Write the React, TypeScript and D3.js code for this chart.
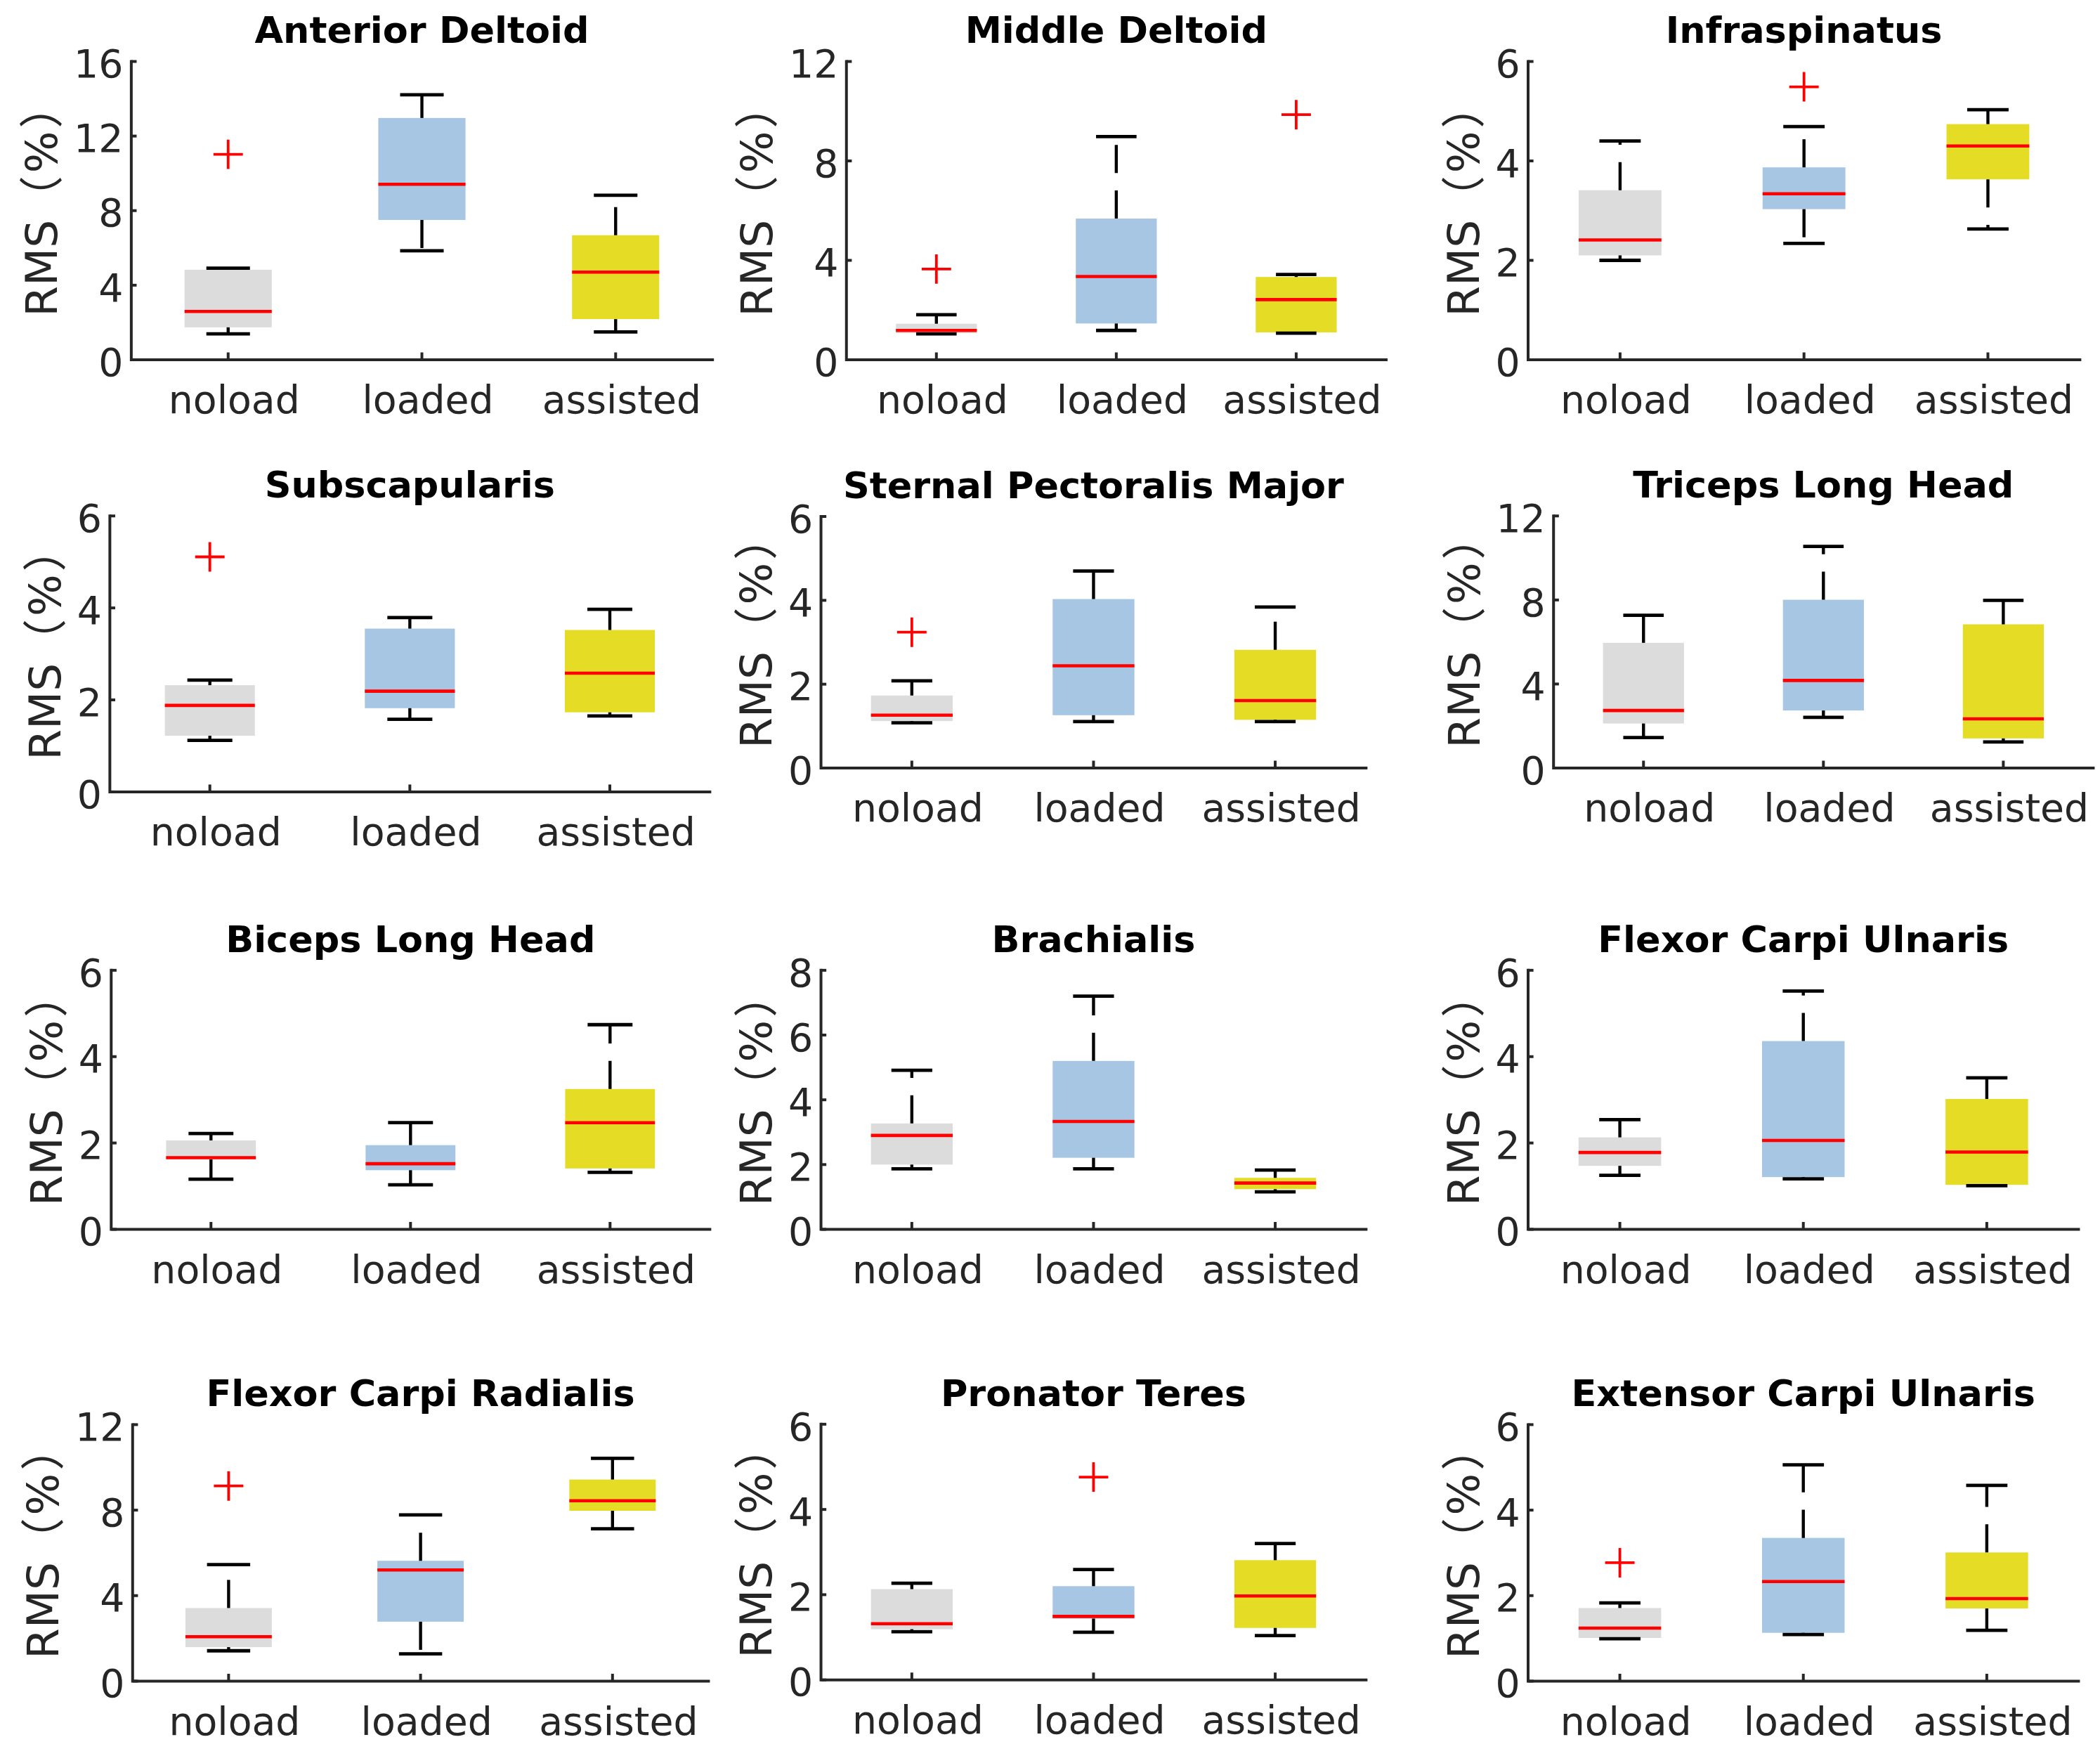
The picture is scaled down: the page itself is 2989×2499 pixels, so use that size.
import React from "react";
import * as d3 from "d3";

// values, one row per muscle, columns = noload, loaded, assisted
const muscles = [
  "Anterior Deltoid",
  "Middle Deltoid",
  "Infraspinatus",
  "Subscapularis",
  "Sternal Pectoralis Major",
  "Triceps Long Head",
  "Biceps Long Head",
  "Brachialis",
  "Flexor Carpi Ulnaris",
  "Flexor Carpi Radialis",
  "Pronator Teres",
  "Extensor Carpi Ulnaris",
];
const groups = ["noload", "loaded", "assisted"];
const yMax = [16, 12, 6, 6, 6, 12, 6, 8, 6, 12, 6, 6];
const yStep = [4, 4, 2, 2, 2, 4, 2, 2, 2, 4, 2, 2];

const lowWhisker = [
  [1.39, 5.85, 1.49],
  [1.04, 1.18, 1.07],
  [2.0, 2.34, 2.63],
  [1.12, 1.58, 1.65],
  [1.08, 1.11, 1.11],
  [1.45, 2.41, 1.24],
  [1.16, 1.03, 1.32],
  [1.87, 1.87, 1.16],
  [1.25, 1.17, 1.01],
  [1.42, 1.28, 7.13],
  [1.13, 1.12, 1.04],
  [0.99, 1.09, 1.19],
];
const q1 = [
  [1.74, 7.5, 2.18],
  [1.07, 1.46, 1.1],
  [2.1, 3.03, 3.63],
  [1.22, 1.82, 1.73],
  [1.12, 1.26, 1.15],
  [2.12, 2.74, 1.41],
  [1.62, 1.37, 1.41],
  [2.0, 2.21, 1.24],
  [1.47, 1.21, 1.03],
  [1.59, 2.78, 7.97],
  [1.19, 1.44, 1.22],
  [1.01, 1.13, 1.7],
];
const medians = [
  [2.59, 9.41, 4.7],
  [1.18, 3.35, 2.42],
  [2.41, 3.34, 4.3],
  [1.88, 2.19, 2.58],
  [1.26, 2.44, 1.61],
  [2.74, 4.17, 2.34],
  [1.66, 1.52, 2.47],
  [2.9, 3.33, 1.43],
  [1.78, 2.06, 1.79],
  [2.08, 5.2, 8.44],
  [1.32, 1.49, 1.97],
  [1.24, 2.33, 1.93],
];
const q3 = [
  [4.83, 12.97, 6.68],
  [1.45, 5.68, 3.33],
  [3.41, 3.87, 4.74],
  [2.32, 3.55, 3.52],
  [1.73, 4.03, 2.82],
  [5.96, 8.01, 6.84],
  [2.06, 1.95, 3.25],
  [3.27, 5.2, 1.59],
  [2.13, 4.36, 3.02],
  [3.42, 5.63, 9.43],
  [2.13, 2.2, 2.81],
  [1.71, 3.35, 3.01],
];
const highWhisker = [
  [4.91, 14.21, 8.82],
  [1.81, 8.98, 3.43],
  [4.4, 4.69, 5.03],
  [2.43, 3.79, 3.97],
  [2.08, 4.7, 3.84],
  [7.27, 10.55, 7.98],
  [2.22, 2.47, 4.74],
  [4.91, 7.2, 1.83],
  [2.54, 5.52, 3.51],
  [5.45, 7.78, 10.42],
  [2.27, 2.59, 3.2],
  [1.83, 5.06, 4.58],
];
const outliers = [
  [[11.02], [], []],
  [[3.65], [], [9.86]],
  [[], [5.49], []],
  [[5.11], [], []],
  [[3.24], [], []],
  [[], [], []],
  [[], [], []],
  [[], [], []],
  [[], [], []],
  [[9.13], [], []],
  [[], [4.76], []],
  [[2.77], [], []],
];

const boxColors = ["#dcdcdc", "#a6c6e3", "#e5dc25"];

// page layout, in a 1568 x 1311 view box scaled to the full window
const W = 1568;
const H = 1311;
// plot area of each axes: left, right, top, bottom
const frames = [
  [98, 532, 45.9, 268.6],
  [632, 1035, 45.9, 268.6],
  [1141, 1553, 45.9, 268.6],
  [82, 530, 385.2, 591.2],
  [613, 1020, 385.6, 573.4],
  [1160, 1563, 385.2, 573.4],
  [83, 530, 724.4, 917.8],
  [613, 1020, 724.4, 917.8],
  [1141, 1552, 724.4, 917.8],
  [99, 529, 1063.6, 1255.1],
  [613, 1020, 1063.3, 1254.2],
  [1141, 1552, 1063.6, 1255.1],
];

const FONT = "DejaVu Sans";
const CJK = "Noto Sans CJK SC";
const TICK_FS = 29;
const LABEL_FS = 33;
const TITLE_FS = 27.5;
const AXIS_COLOR = "#262626";
const BOX_W = 0.45;

const Panel = ({ i }: { i: number }) => {
  const [L, R, T, B] = frames[i];
  const x = d3.scaleLinear().domain([0.5, 3.5]).range([L, R]);
  const y = d3.scaleLinear().domain([0, yMax[i]]).range([B, T]);
  const ticks = d3.range(0, yMax[i] + yStep[i] / 2, yStep[i]);
  const widest = (d3.max(ticks, (t: number) => String(t).length) as number) * 0.636 * TICK_FS;
  const labelX = L - 6 - widest - 12.5;
  const cy = (T + B) / 2;

  return (
    <g>
      {groups.map((g, j) => {
        const c = j + 1;
        const x0 = x(c - BOX_W / 2);
        const x1 = x(c + BOX_W / 2);
        const cx = x(c);
        const capHalf = (x1 - x0) / 4;
        return (
          <g key={g}>
            <rect
              x={x0}
              y={y(q3[i][j])}
              width={x1 - x0}
              height={y(q1[i][j]) - y(q3[i][j])}
              fill={boxColors[j]}
            />
            <line
              x1={cx}
              x2={cx}
              y1={y(q3[i][j])}
              y2={y(highWhisker[i][j])}
              stroke="#000"
              strokeWidth={2.3}
              strokeDasharray="21 13"
            />
            <line
              x1={cx}
              x2={cx}
              y1={y(q1[i][j])}
              y2={y(lowWhisker[i][j])}
              stroke="#000"
              strokeWidth={2.3}
              strokeDasharray="21 13"
            />
            <line
              x1={cx - capHalf}
              x2={cx + capHalf}
              y1={y(highWhisker[i][j])}
              y2={y(highWhisker[i][j])}
              stroke="#000"
              strokeWidth={2.5}
            />
            <line
              x1={cx - capHalf}
              x2={cx + capHalf}
              y1={y(lowWhisker[i][j])}
              y2={y(lowWhisker[i][j])}
              stroke="#000"
              strokeWidth={2.5}
            />
            <line
              x1={x0}
              x2={x1}
              y1={y(medians[i][j])}
              y2={y(medians[i][j])}
              stroke="#ff0000"
              strokeWidth={2.4}
            />
            {outliers[i][j].map((v, k) => (
              <path
                key={k}
                d={`M${cx - 11},${y(v)}H${cx + 11}M${cx},${y(v) - 11}V${y(v) + 11}`}
                stroke="#ff0000"
                strokeWidth={2}
                fill="none"
              />
            ))}
          </g>
        );
      })}

      {/* axes */}
      <path
        d={`M${L},${T}V${B}H${R}`}
        fill="none"
        stroke={AXIS_COLOR}
        strokeWidth={2.1}
        strokeLinecap="square"
      />
      {ticks.map((t) => (
        <g key={t}>
          <line x1={L} x2={L + 4} y1={y(t)} y2={y(t)} stroke={AXIS_COLOR} strokeWidth={2.1} />
          <text
            x={L - 6}
            y={y(t)}
            dy="0.41em"
            textAnchor="end"
            fontSize={TICK_FS}
            fill={AXIS_COLOR}
          >
            {t}
          </text>
        </g>
      ))}
      {groups.map((g, j) => (
        <g key={g}>
          <line x1={x(j + 1)} x2={x(j + 1)} y1={B} y2={B - 5.5} stroke={AXIS_COLOR} strokeWidth={2.1} />
          <text x={x(j + 1) + 4.5} y={B + 40} textAnchor="middle" fontSize={TICK_FS} fill={AXIS_COLOR}>
            {g}
          </text>
        </g>
      ))}
      <text
        transform={`translate(${labelX},${cy - 7.6}) rotate(-90)`}
        textAnchor="middle"
        fontSize={LABEL_FS}
        fill={AXIS_COLOR}
      >
        RMS<tspan fontFamily={CJK}>（</tspan>
        <tspan dx={2}>%</tspan>
        <tspan dx={2} fontFamily={CJK}>）</tspan>
      </text>
      <text
        x={(L + R) / 2}
        y={T - 13.8}
        textAnchor="middle"
        fontSize={TITLE_FS}
        fontWeight="bold"
        fill="#000"
      >
        {muscles[i]}
      </text>
    </g>
  );
};

const App = () => {
  return (
    <svg
      width={2989}
      height={2499}
      viewBox={`0 0 ${W} ${H}`}
      style={{ position: "absolute", left: 0, top: 0, background: "#fff" }}
      fontFamily={FONT}
    >
      <rect width={W} height={H} fill="#fff" />
      {muscles.map((m, i) => (
        <Panel key={m} i={i} />
      ))}
    </svg>
  );
};

export default App;
